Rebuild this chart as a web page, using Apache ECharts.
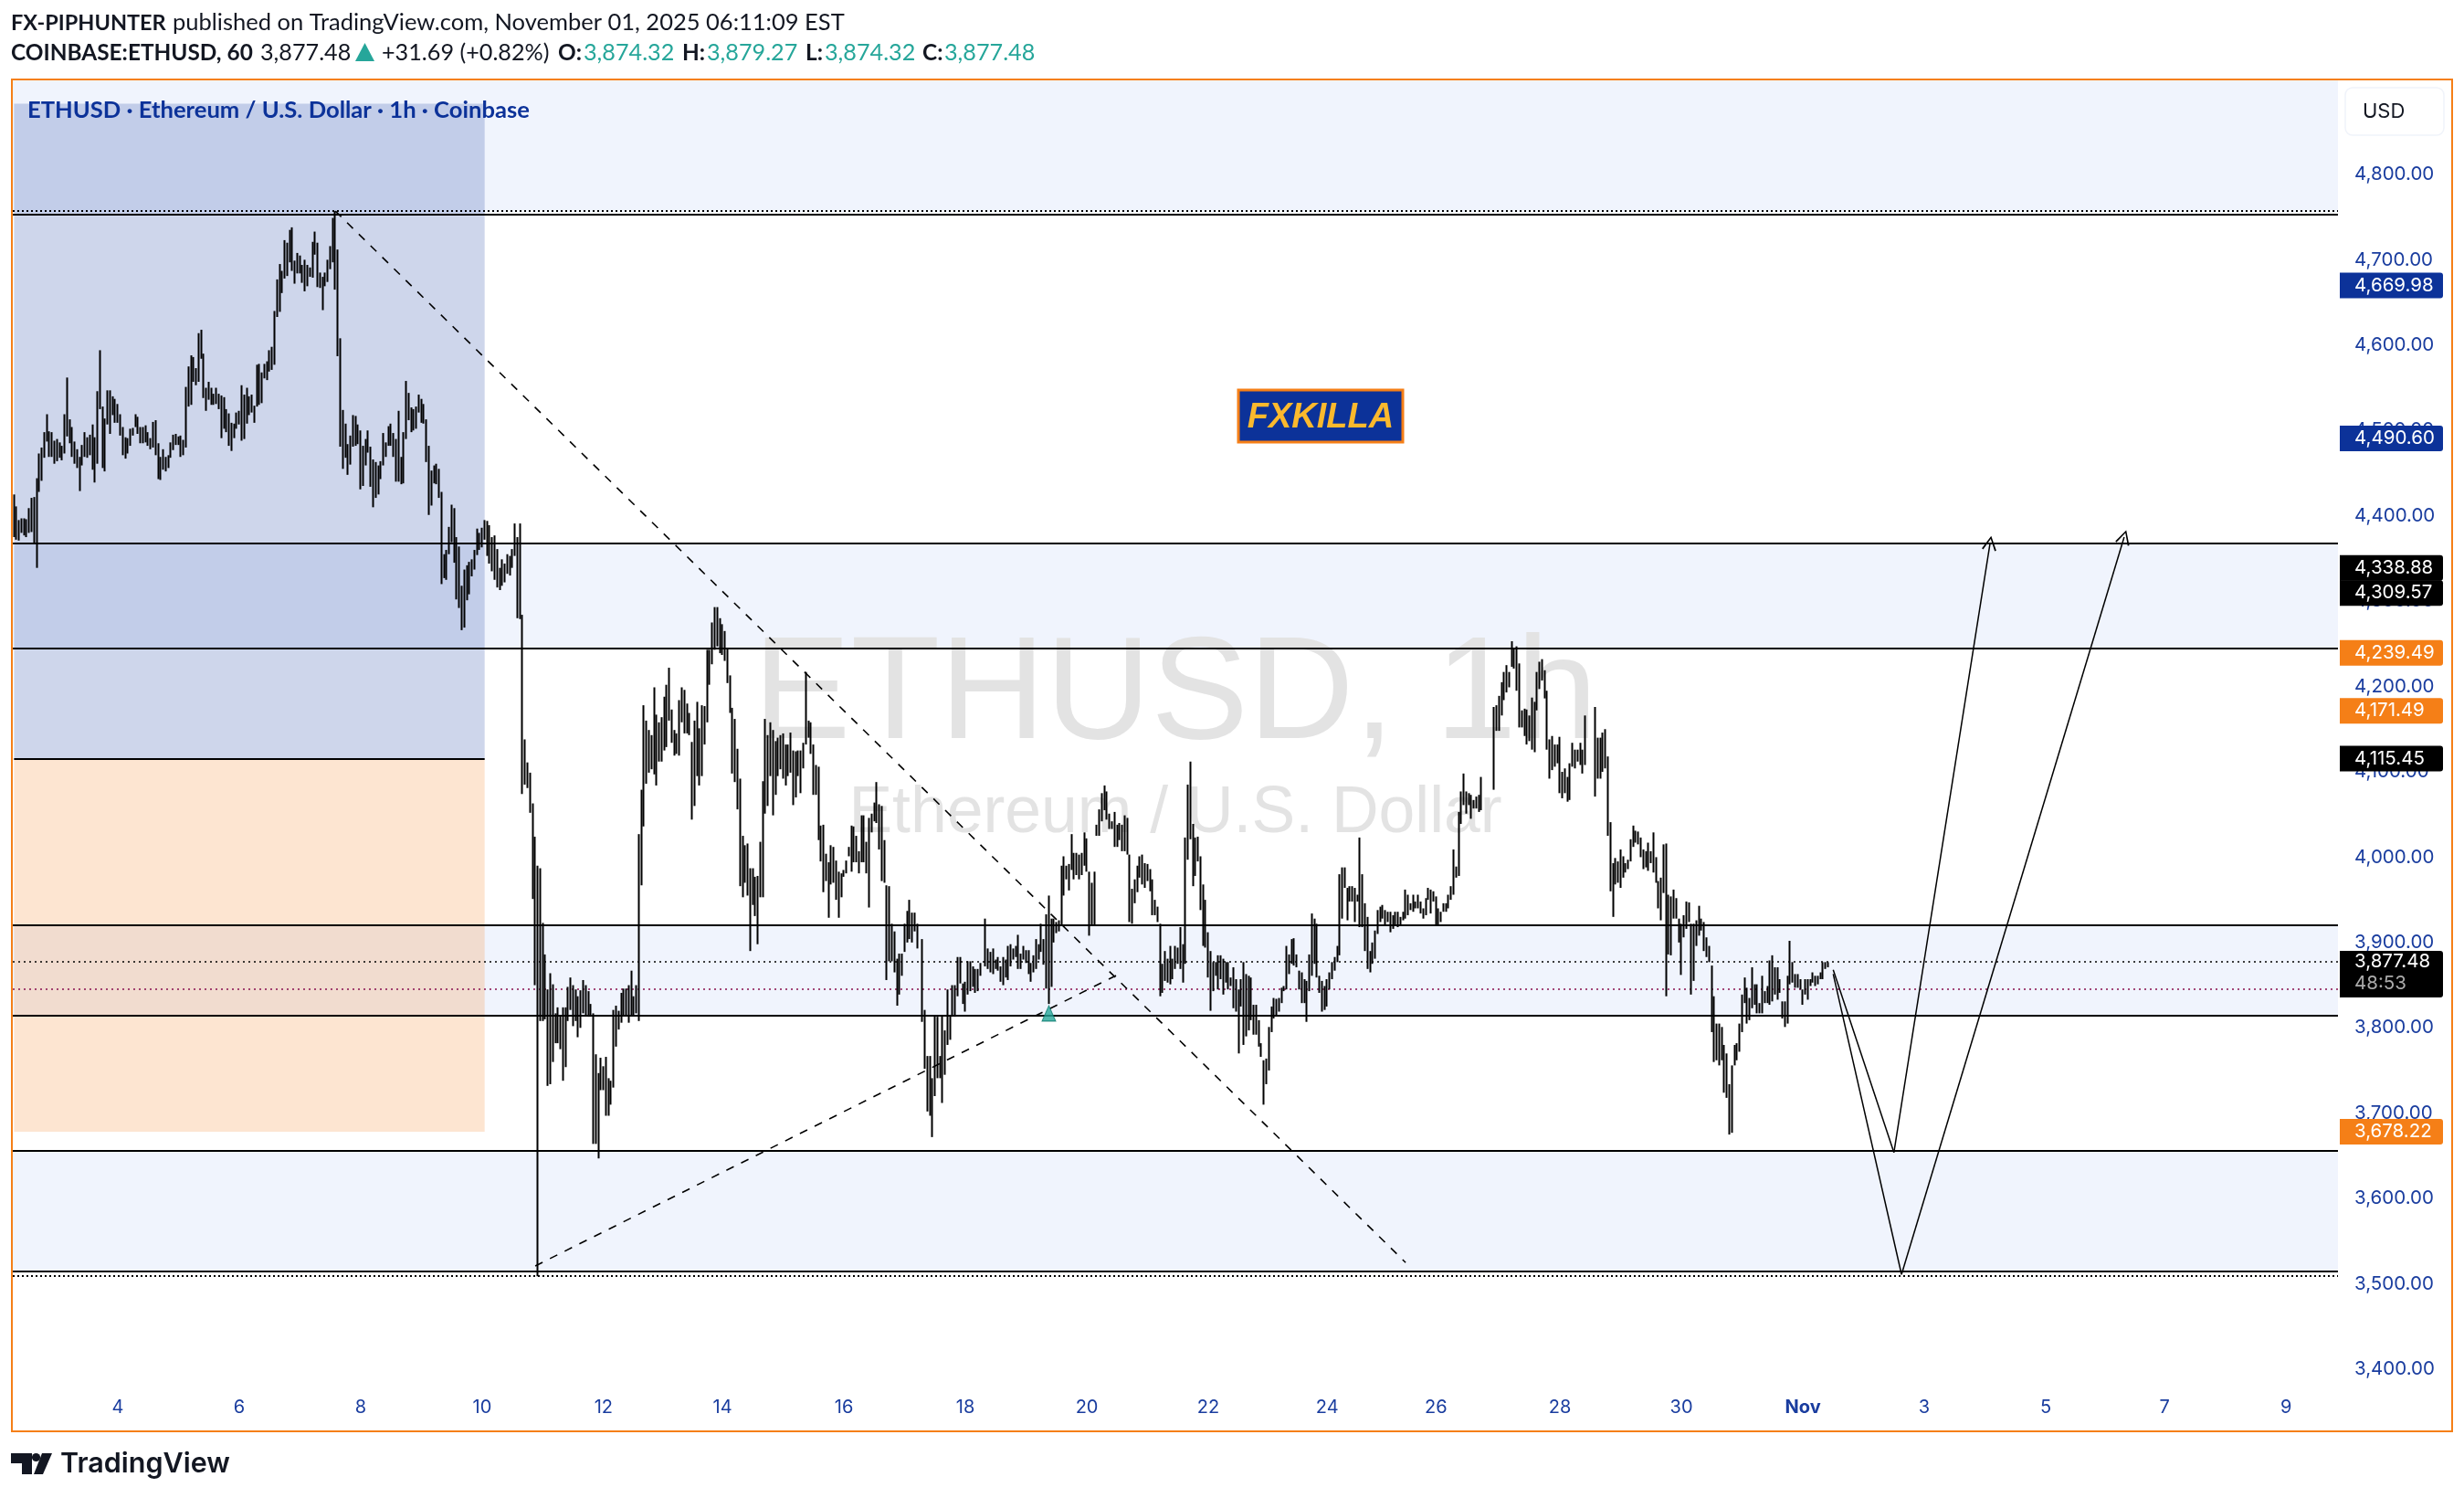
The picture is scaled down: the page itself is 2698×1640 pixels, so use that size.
<!DOCTYPE html>
<html><head><meta charset="utf-8">
<style>html,body{margin:0;padding:0;background:#fff}#c{width:2698px;height:1640px}</style>
<script src="https://cdn.jsdelivr.net/npm/echarts@6/dist/echarts.min.js"></script></head>
<body><div id="c"></div>
<script>
// hourly high/low pairs, grouped in runs with their starting hour index
const runA1=[[4425,4375],[4411,4372],[4395,4371],[4397,4380],[4397,4377],[4396,4375],[4409,4380],[4421,4381],[4422,4368],[4444,4339],[4473,4428],[4480,4441],[4498,4468],[4519,4487],[4499,4469],[4498,4469],[4488,4461],[4490,4464],[4486,4468],[4482,4465],[4519,4473],[4562,4493],[4513,4485],[4504,4469],[4487,4461],[4478,4456],[4469,4429],[4483,4459],[4498,4469],[4492,4468],[4495,4471],[4507,4454],[4492,4439],[4546,4461],[4594,4525],[4528,4456],[4514,4452],[4547,4507],[4547,4496],[4540,4518],[4537,4509],[4531,4509],[4519,4494],[4504,4471],[4492,4467],[4491,4473],[4502,4482],[4503,4494],[4519,4504],[4516,4496],[4504,4485],[4504,4485],[4506,4486],[4498,4482],[4491,4478],[4510,4480],[4512,4471],[4485,4443],[4469,4442],[4478,4454],[4469,4452],[4471,4456],[4486,4468],[4495,4477],[4496,4483],[4493,4483],[4494,4469],[4489,4471],[4551,4480],[4575,4528],[4588,4530],[4586,4557],[4573,4553],[4614,4557],[4618,4584],[4590,4538],[4550,4523],[4557,4536],[4550,4530],[4543,4530],[4550,4531],[4543,4525],[4541,4491],[4539,4502],[4525,4498],[4520,4482],[4509,4476],[4508,4491],[4521,4502],[4523,4507],[4553,4488],[4542,4490],[4550,4508],[4540,4518],[4542,4521],[4529,4509],[4577,4528],[4578,4530],[4568,4532],[4578,4561],[4581,4559],[4594,4569],[4598,4571]];
const runA2=[[4640,4577],[4677,4633],[4695,4639],[4687,4661],[4723,4678],[4720,4681],[4735,4697],[4738,4687],[4699,4672],[4708,4684],[4705,4684],[4694,4673],[4700,4663],[4694,4669],[4691,4680],[4721,4679],[4733,4706],[4720,4668],[4685,4667],[4680,4641],[4685,4669],[4700,4674],[4716,4689],[4749,4697],[4757,4665]];
const runA3=[[4712,4587],[4608,4481],[4524,4455],[4508,4468],[4484,4448],[4494,4460],[4518,4481],[4517,4482],[4507,4484],[4500,4431],[4482,4435],[4490,4459],[4500,4474],[4481,4434],[4466,4410],[4463,4421],[4459,4425],[4464,4443],[4497,4459],[4486,4469],[4505,4482],[4508,4482],[4497,4469],[4490,4440],[4523,4440],[4469,4437],[4498,4438],[4558,4490],[4544,4512],[4527,4498],[4525,4500],[4528,4502],[4542,4521],[4537,4509],[4531,4508],[4513,4463],[4482,4401],[4453,4412],[4459,4438],[4461,4437],[4455,4421],[4438,4411]];
const runA4=[[4428,4320],[4355,4327],[4360,4325],[4387,4355],[4413,4369],[4409,4345],[4375,4302],[4364,4292],[4318,4266],[4337,4269],[4342,4301],[4346,4308],[4349,4329],[4360,4337],[4385,4354],[4380,4360],[4386,4363],[4395,4372]];
const runB0=[[4394,4353],[4389,4344],[4375,4335],[4377,4325],[4361,4316],[4339,4313],[4349,4318],[4344,4322],[4355,4332],[4353,4330],[4361,4339],[4391,4353],[4375,4280]];
const runB1=[[4391,4279],[4284,4074],[4138,4085],[4111,4081],[4099,4052],[4063,3951],[4024,3850],[3990,3509],[3987,3808],[3923,3808],[3886,3810],[3845,3732],[3864,3734],[3851,3760],[3817,3782],[3824,3782],[3815,3775],[3824,3738],[3824,3754],[3848,3808],[3859,3821],[3850,3802],[3845,3808],[3837,3789],[3844,3800],[3856,3817],[3850,3815],[3843,3813],[3828,3813],[3817,3664],[3769,3664],[3747,3647],[3765,3727],[3755,3727],[3766,3697],[3741,3697],[3738,3710],[3821,3730],[3826,3778],[3820,3798],[3841,3806],[3846,3815],[3846,3815],[3850,3806],[3867,3815],[3837,3815],[3850,3817],[3835,3795]];
const runB2=[[4027,3808],[4079,3967],[4178,4036],[4160,4086],[4149,4099],[4143,4103],[4199,4097],[4167,4084],[4158,4112],[4164,4112],[4188,4125],[4202,4129],[4222,4160],[4173,4134],[4149,4119],[4145,4121],[4184,4119],[4199,4158],[4196,4145],[4180,4145],[4169,4143],[4135,4044],[4160,4060],[4182,4095],[4151,4084],[4178,4095],[4177,4132],[4243,4158],[4243,4202],[4275,4226],[4293,4243],[4293,4247],[4280,4239],[4273,4237],[4265,4230],[4244,4204],[4213,4169],[4175,4098],[4162,4088],[4127,4056],[4092,3966],[4025,3953],[4014,3970],[4016,3955],[3987,3890],[3987,3944],[3977,3931],[3978,3898],[4018,3953],[4089,3953]];
const runB3=[[4162,4051],[4143,4060],[4158,4095],[4149,4049],[4136,4073],[4140,4095],[4143,4103],[4145,4092],[4132,4084],[4132,4095],[4146,4099],[4125,4061],[4124,4070],[4125,4095],[4125,4075],[4134,4104],[4217,4132],[4160,4140],[4158,4121],[4132,4073],[4108,4073],[4106,4020],[4037,3995],[4038,3959],[4004,3972],[3994,3929],[4014,3968],[4012,3970],[3996,3950],[3983,3929],[3981,3953],[3985,3977],[3996,3981],[4012,4001],[4037,3983],[4036,3994],[4025,3994],[4007,3981],[4049,3994],[4049,3994],[4018,3981],[4046,3941],[4051,4029],[4064,4042],[4088,4040],[4062,4009],[4060,3972],[4020,3970]];
const runB4=[[3967,3856],[3966,3878],[3922,3878],[3913,3865],[3881,3826],[3887,3839],[3887,3861],[3922,3889],[3937,3900],[3950,3904],[3935,3900],[3935,3913],[3922,3893]];
const runB5=[[3904,3807],[3821,3752],[3767,3702],[3767,3697],[3741,3672],[3815,3720],[3813,3741],[3767,3741],[3815,3712],[3797,3745],[3845,3780],[3815,3786],[3850,3813],[3850,3813],[3883,3837],[3883,3852],[3852,3828],[3854,3819],[3878,3839],[3878,3843],[3872,3848],[3869,3841],[3869,3843],[3876,3861]];
const runB6=[[3928,3872],[3893,3869],[3889,3865],[3893,3863],[3880,3869],[3883,3867],[3872,3854],[3883,3850],[3880,3859],[3896,3856],[3898,3872],[3893,3880],[3896,3883],[3909,3869],[3887,3869],[3896,3880],[3891,3876],[3891,3863],[3876,3854],[3885,3865],[3904,3869],[3898,3880],[3922,3889],[3904,3874],[3933,3846],[3955,3828],[3928,3848],[3928,3900],[3924,3911],[3926,3913],[3990,3920],[4001,3955],[3990,3974],[3992,3961],[4027,3985],[4005,3974],[4005,3979],[4003,3974],[4005,3979],[4029,3990],[4022,3983],[3983,3908],[3970,3920],[3983,3920],[4038,4025],[4056,4025],[4075,4042],[4084,4055],[4077,4044],[4051,4033],[4042,4033],[4053,4012],[4038,4012],[4040,4020],[4038,4007],[4049,4007],[4046,4003],[4003,3924],[3963,3922],[3974,3946],[3990,3959],[4001,3976]];
const runC0=[[4003,3968],[3993,3964],[3992,3972],[3986,3960],[3974,3932],[3950,3932],[3942,3924],[3922,3837],[3875,3841],[3890,3855],[3881,3853],[3896,3851],[3881,3857],[3896,3869],[3894,3875],[3918,3869],[3898,3853],[4023,3875],[4085,3997],[4112,4021],[4039,3966],[4023,3978],[4024,3995],[4001,3938],[3968,3896],[3950,3894],[3912,3859],[3890,3820],[3877,3843],[3877,3861],[3885,3845],[3885,3857],[3881,3839],[3877,3853],[3877,3845],[3859,3849],[3871,3823],[3857,3819],[3845,3770],[3857,3825],[3877,3780],[3863,3790],[3861,3797],[3859,3809],[3827,3792],[3827,3792],[3809,3778],[3782,3766],[3762,3710],[3764,3734],[3801,3750],[3825,3795],[3835,3811],[3834,3815],[3835,3819],[3847,3829],[3849,3843]];
const runC1=[[3896,3845],[3886,3863],[3904,3875],[3905,3873],[3886,3871],[3867,3845],[3865,3829],[3857,3829],[3855,3807],[3886,3843],[3934,3861],[3928,3875],[3922,3859],[3861,3841],[3855,3819],[3849,3821],[3857,3825],[3865,3845],[3877,3857],[3883,3867],[3896,3877],[3980,3885],[3988,3928],[3988,3964],[3964,3926],[3966,3948],[3966,3948],[3964,3924],[3956,3948]];
const runC2=[[4023,3918],[3980,3918],[3946,3890],[3930,3869],[3890,3865],[3900,3875],[3914,3881],[3938,3910],[3942,3924],[3944,3928],[3938,3920],[3936,3924],[3936,3912],[3932,3916],[3936,3920],[3936,3918],[3930,3920],[3936,3926],[3962,3928],[3956,3932],[3946,3938],[3956,3936],[3948,3940],[3956,3940],[3948,3934],[3940,3928],[3952,3932],[3964,3950],[3962,3934],[3960,3948],[3954,3920],[3940,3920],[3936,3924],[3946,3936],[3946,3936],[3956,3940],[3966,3950],[4009,3956],[3989,3976],[4053,3978],[4077,4039],[4098,4061],[4077,4051],[4075,4061],[4073,4045],[4067,4057],[4071,4057],[4073,4053],[4094,4055]];
const runC3=[[4176,4079],[4178,4148],[4189,4148],[4205,4166],[4217,4184],[4225,4193],[4217,4199],[4253,4223],[4245,4221],[4247,4195],[4227,4152],[4172,4152],[4174,4142],[4173,4132],[4166,4136],[4187,4126],[4182,4123],[4217,4172],[4229,4197],[4232,4207],[4219,4186],[4195,4126],[4138,4092],[4142,4102],[4132,4106],[4132,4110],[4141,4075],[4100,4069],[4104,4075],[4094,4065],[4110,4067],[4134,4106],[4126,4104],[4126,4112],[4134,4108],[4126,4098],[4166,4108]];
const runC4=[[4176,4071],[4140,4092],[4140,4092],[4146,4100],[4150,4104],[4118,4025],[4041,3960],[3993,3930],[3999,3968],[3995,3970],[4009,3964],[4001,3976],[3993,3982],[3997,3986],[4021,3995],[4037,4012],[4031,4017],[4030,4015],[4023,4000],[4009,3986],[4007,3988],[4017,3984],[4007,3993],[4029,3982],[4000,3970],[3972,3940],[3976,3926],[4015,3958]];
const runC5=[[4016,3837],[3956,3886],[3954,3885],[3962,3928],[3952,3928],[3928,3900],[3922,3862],[3932,3906],[3948,3916],[3947,3924],[3922,3839],[3922,3855],[3926,3896],[3943,3908],[3928,3914],[3924,3890],[3906,3883],[3896,3877],[3873,3795],[3837,3760],[3805,3762],[3805,3756],[3801,3762],[3780,3724],[3770,3718]];
const runC6=[[3734,3675],[3756,3677],[3780,3756],[3782,3762],[3805,3772],[3839,3795],[3859,3829],[3847,3805],[3835,3809],[3871,3823],[3851,3827],[3851,3817],[3829,3817],[3861,3817],[3843,3829],[3849,3829],[3879,3827],[3885,3831],[3871,3839],[3871,3833],[3857,3841],[3831,3811],[3831,3801],[3861,3805],[3902,3851],[3877,3853],[3863,3847],[3863,3847],[3857,3845],[3845,3827],[3857,3839],[3857,3833],[3857,3849],[3865,3853],[3861,3849],[3861,3851],[3865,3857],[3877,3857],[3877,3869],[3877,3871]];
const runs=[[0,runA1],[103,runA2],[128,runA3],[169,runA4],[187,runB0],[200,runB1],[247,runB2],[297,runB3],[345,runB4],[359,runB5],[384,runB6],[446,runC0],[503,runC1],[532,runC2],[585,runC3],[625,runC4],[653,runC5],[678,runC6]];

const slotCount=919;
const dayLabels=['4','6','8','10','12','14','16','18','20','22','24','26','28','30','Nov','3','5','7','9'];
const dayIndex=[41,89,137,185,233,280,328,376,424,472,519,562,611,659,707,755,803,850,898];
const priceTicks=[3400,3500,3600,3700,3800,3900,4000,4100,4200,4300,4400,4500,4600,4700,4800];
const zones=[[4910,4755],[4368,4245],[3920,3815],[3656,3515]];
const solidLevels=[4753,4368,4245,3920,3815,3656,3515];
const dottedLevels=[4757,3509];
const lastPrice=3877.48, prevClose=3845.79;
const leftBox={end:186,top:4883,mid:4115.45,bottom:3678.22};
const downTrend=[[127,4757],[550,3525]];
const upTrend=[[206,3521],[436,3862]];
const pathA=[[719,3868],[743,3654],[781,4368]];
const pathB=[[719,3863],[746,3511],[834,4375]];
const markerPoint=[409,3817];
const tagPrices=[4669.98,4490.60,4338.88,4309.57,4239.49,4171.49,4115.45,3678.22];
const tagColors=['#0c3299','#0c3299','#000000','#000000','#f57f17','#f57f17','#000000','#f57f17'];
const countdown='48:53';

const BLUE='#0c3299',AXIS='#1a3d9f',ORANGE='#f57f17',GREEN='#26a69a',INK='#131722';
const fmt=v=>v.toLocaleString('en-US',{minimumFractionDigits:2,maximumFractionDigits:2});

const candles=[];
runs.forEach(([s,arr])=>arr.forEach(([h,l],k)=>{candles[s+k]=[s+k,l,h,l,h];}));
const candleData=candles.filter(Boolean);
const slots=Array.from({length:slotCount},(_,i)=>String(i));
const dayMap={};dayIndex.forEach((i,k)=>dayMap[i]=dayLabels[k]);

const hLine=(y,st)=>({yAxis:y,lineStyle:st});
const seg=(a,b,st,extra)=>[{coord:a,lineStyle:st},Object.assign({coord:b},extra||{})];
const solid={color:'#000',width:2,type:'solid'};
const thin={color:'#000',width:1.5,type:'solid'};
const dash={color:'#000',width:1.6,type:[9,9]};
const chevron='path://M0 10 L5 0 L10 10 L9 10.6 L5 2.2 L1 10.6 Z';

const lineItems=[
 ...solidLevels.map(v=>hLine(v,solid)),
 ...dottedLevels.map(v=>hLine(v,{color:'#000',width:2,type:[2,3]})),
 hLine(lastPrice,{color:'#000',width:1.6,type:[2,4]}),
 hLine(prevClose,{color:'#880e4f',width:1.6,type:[2,4]}),
 seg([0,leftBox.mid],[leftBox.end,leftBox.mid],solid),
 seg(downTrend[0],downTrend[1],dash),
 seg(upTrend[0],upTrend[1],dash),
 seg(pathA[0],pathA[1],thin),
 seg(pathB[0],pathB[1],thin)
];
const arrowItems=[seg(pathA[1],pathA[2],thin),seg(pathB[1],pathB[2],thin)];

const T=(text,x,y,o)=>({type:'text',x,y,z:50,silent:true,style:Object.assign({text,fill:INK,font:'25.2px Lato',verticalAlign:'middle'},o||{})});
const bold='bold 24.4px Lato';
const graphics=[
 {type:'text',x:1287,y:764,z:2,silent:true,style:{text:'ETHUSD, 1h',fill:'#e3e3e3',font:'160px "Liberation Sans"',align:'center',verticalAlign:'middle'}},
 {type:'text',x:1287,y:891,z:2,silent:true,style:{text:'Ethereum / U.S. Dollar',fill:'#e3e3e3',font:'71.5px "Liberation Sans"',align:'center',verticalAlign:'middle'}},
 {type:'rect',z:49,silent:true,shape:{x:13,y:87,width:2672,height:1480},style:{fill:'none',stroke:ORANGE,lineWidth:2}},
 T('FX-PIPHUNTER',12,25,{font:'bold 23.5px Lato'}),
 T('published on TradingView.com, November 01, 2025 06:11:09 EST',189,25,{font:'25.5px Lato'}),
 T('COINBASE:ETHUSD, 60',12,58,{font:bold}),
 T('3,877.48',285,58),
 {type:'polygon',z:50,silent:true,shape:{points:[[399.5,47],[410,67],[389,67]]},style:{fill:GREEN}},
 T('+31.69 (+0.82%)',418,58),
 T('O:',611,58,{font:bold}),T('3,874.32',639,58,{fill:GREEN}),
 T('H:',747,58,{font:bold}),T('3,879.27',774,58,{fill:GREEN}),
 T('L:',882,58,{font:bold}),T('3,874.32',903,58,{fill:GREEN}),
 T('C:',1010,58,{font:bold}),T('3,877.48',1034,58,{fill:GREEN}),
 T('ETHUSD · Ethereum / U.S. Dollar · 1h · Coinbase',30,121,{font:'bold 25.6px Lato',fill:BLUE}),
 {type:'rect',z:40,silent:true,shape:{x:2568,y:96,width:108,height:52,r:8},style:{fill:'#fff',stroke:'#f0f3fa',lineWidth:1.5}},
 T('USD',2587,122,{font:'22px Inter',fill:'#131722'}),
 {type:'rect',z:40,silent:true,shape:{x:1356,y:427,width:180,height:57},style:{fill:BLUE,stroke:ORANGE,lineWidth:3}},
 T('FXKILLA',1446,458,{font:'italic bold 38px "Liberation Sans"',fill:'#fbb92d',align:'center'}),
 {type:'polygon',z:50,silent:true,shape:{points:[[12,1591],[35,1591],[35,1614],[24,1614],[24,1602],[12,1602]]},style:{fill:INK}},
 {type:'circle',z:50,silent:true,shape:{cx:39.5,cy:1595.5,r:4.6},style:{fill:INK}},
 {type:'polygon',z:50,silent:true,shape:{points:[[46,1591],[57,1591],[47,1614],[37,1614]]},style:{fill:INK}},
 T('TradingView',66,1603,{font:'600 30.5px Inter',fill:INK})
];

const chart=echarts.init(document.getElementById('c'),null,{renderer:'canvas',width:2698,height:1640});
chart.setOption({
 animation:false,backgroundColor:'#fff',
 grid:{left:14,width:2546,top:4.1,height:1494.9},
 xAxis:{type:'category',data:slots,boundaryGap:true,axisLine:{show:false},axisTick:{show:false},splitLine:{show:false},
  axisLabel:{margin:32,color:AXIS,fontFamily:'Inter',fontSize:20,
   interval:i=>dayMap[i]!==undefined,
   formatter:v=>{const d=dayMap[+v];return d==='Nov'?'{b|Nov}':(d||'');},
   rich:{b:{fontWeight:'bold',color:AXIS,fontFamily:'Inter',fontSize:20}}}},
 yAxis:{type:'value',position:'right',min:3400,max:5000,interval:100,axisLine:{show:false},axisTick:{show:false},splitLine:{show:false},
  axisLabel:{margin:18,color:AXIS,fontFamily:'Inter',fontSize:20.5,
   formatter:v=>priceTicks.includes(v)?fmt(v):''}},
 graphic:{elements:graphics},
 series:[
  {type:'line',name:'zones',data:[],z:0,silent:true,
   markArea:{silent:true,z:0,data:[
    ...zones.map(z=>[{yAxis:z[0],itemStyle:{color:'#f0f4fd'}},{yAxis:z[1]}]),
    [{coord:[0,leftBox.top],itemStyle:{color:'rgba(12,50,153,0.2)'}},{coord:[leftBox.end,leftBox.mid]}],
    [{coord:[0,leftBox.mid],itemStyle:{color:'rgba(245,127,23,0.2)'}},{coord:[leftBox.end,leftBox.bottom]}]
   ]}},
  {type:'candlestick',name:'ETHUSD',z:5,data:candleData,encode:{x:0,y:[1,2,3,4]},barWidth:1,barMinWidth:1,large:false,progressive:0,silent:true,
   itemStyle:{color:'#000',color0:'#000',borderColor:'#000',borderColor0:'#000',borderWidth:2}},
  {type:'line',name:'levels',data:[],z:6,silent:true,
   markLine:{silent:true,animation:false,symbol:'none',label:{show:false},data:lineItems}},
  {type:'line',name:'targets',data:[],z:6,silent:true,
   markLine:{silent:true,animation:false,symbol:['none',chevron],symbolSize:[16,16],label:{show:false},data:arrowItems}},
  {type:'scatter',name:'marker',z:7,silent:true,data:[markerPoint],symbol:'triangle',symbolSize:[15,17],
   itemStyle:{color:GREEN,borderColor:'#0b7a6e',borderWidth:1}},
  {type:'custom',name:'tags',z:20,silent:true,clip:false,data:tagPrices.map((p,i)=>[i,p]),
   renderItem:(params,api)=>{
    const i=api.value(0),p=api.value(1),y=api.coord([0,p])[1];
    return {type:'group',children:[
     {type:'rect',shape:{x:2562,y:y-14,width:113,height:28,r:[0,3,3,0]},style:{fill:tagColors[i]}},
     {type:'text',x:2578,y,style:{text:fmt(p),fill:'#fff',font:'20.5px Inter',verticalAlign:'middle'}}
    ]};
   }},
  {type:'custom',name:'lastTag',z:21,silent:true,clip:false,data:[[0,lastPrice]],
   renderItem:(params,api)=>{
    const p=api.value(1),y=api.coord([0,p])[1];
    return {type:'group',children:[
     {type:'rect',shape:{x:2562,y:y-12,width:113,height:51,r:[0,3,3,0]},style:{fill:'#000'}},
     {type:'text',x:2578,y,style:{text:fmt(p),fill:'#fff',font:'20.5px Inter',verticalAlign:'middle'}},
     {type:'text',x:2578,y:y+24,style:{text:countdown,fill:'#aaa',font:'20.5px Inter',verticalAlign:'middle'}}
    ]};
   }}
 ]
});
</script></body></html>
